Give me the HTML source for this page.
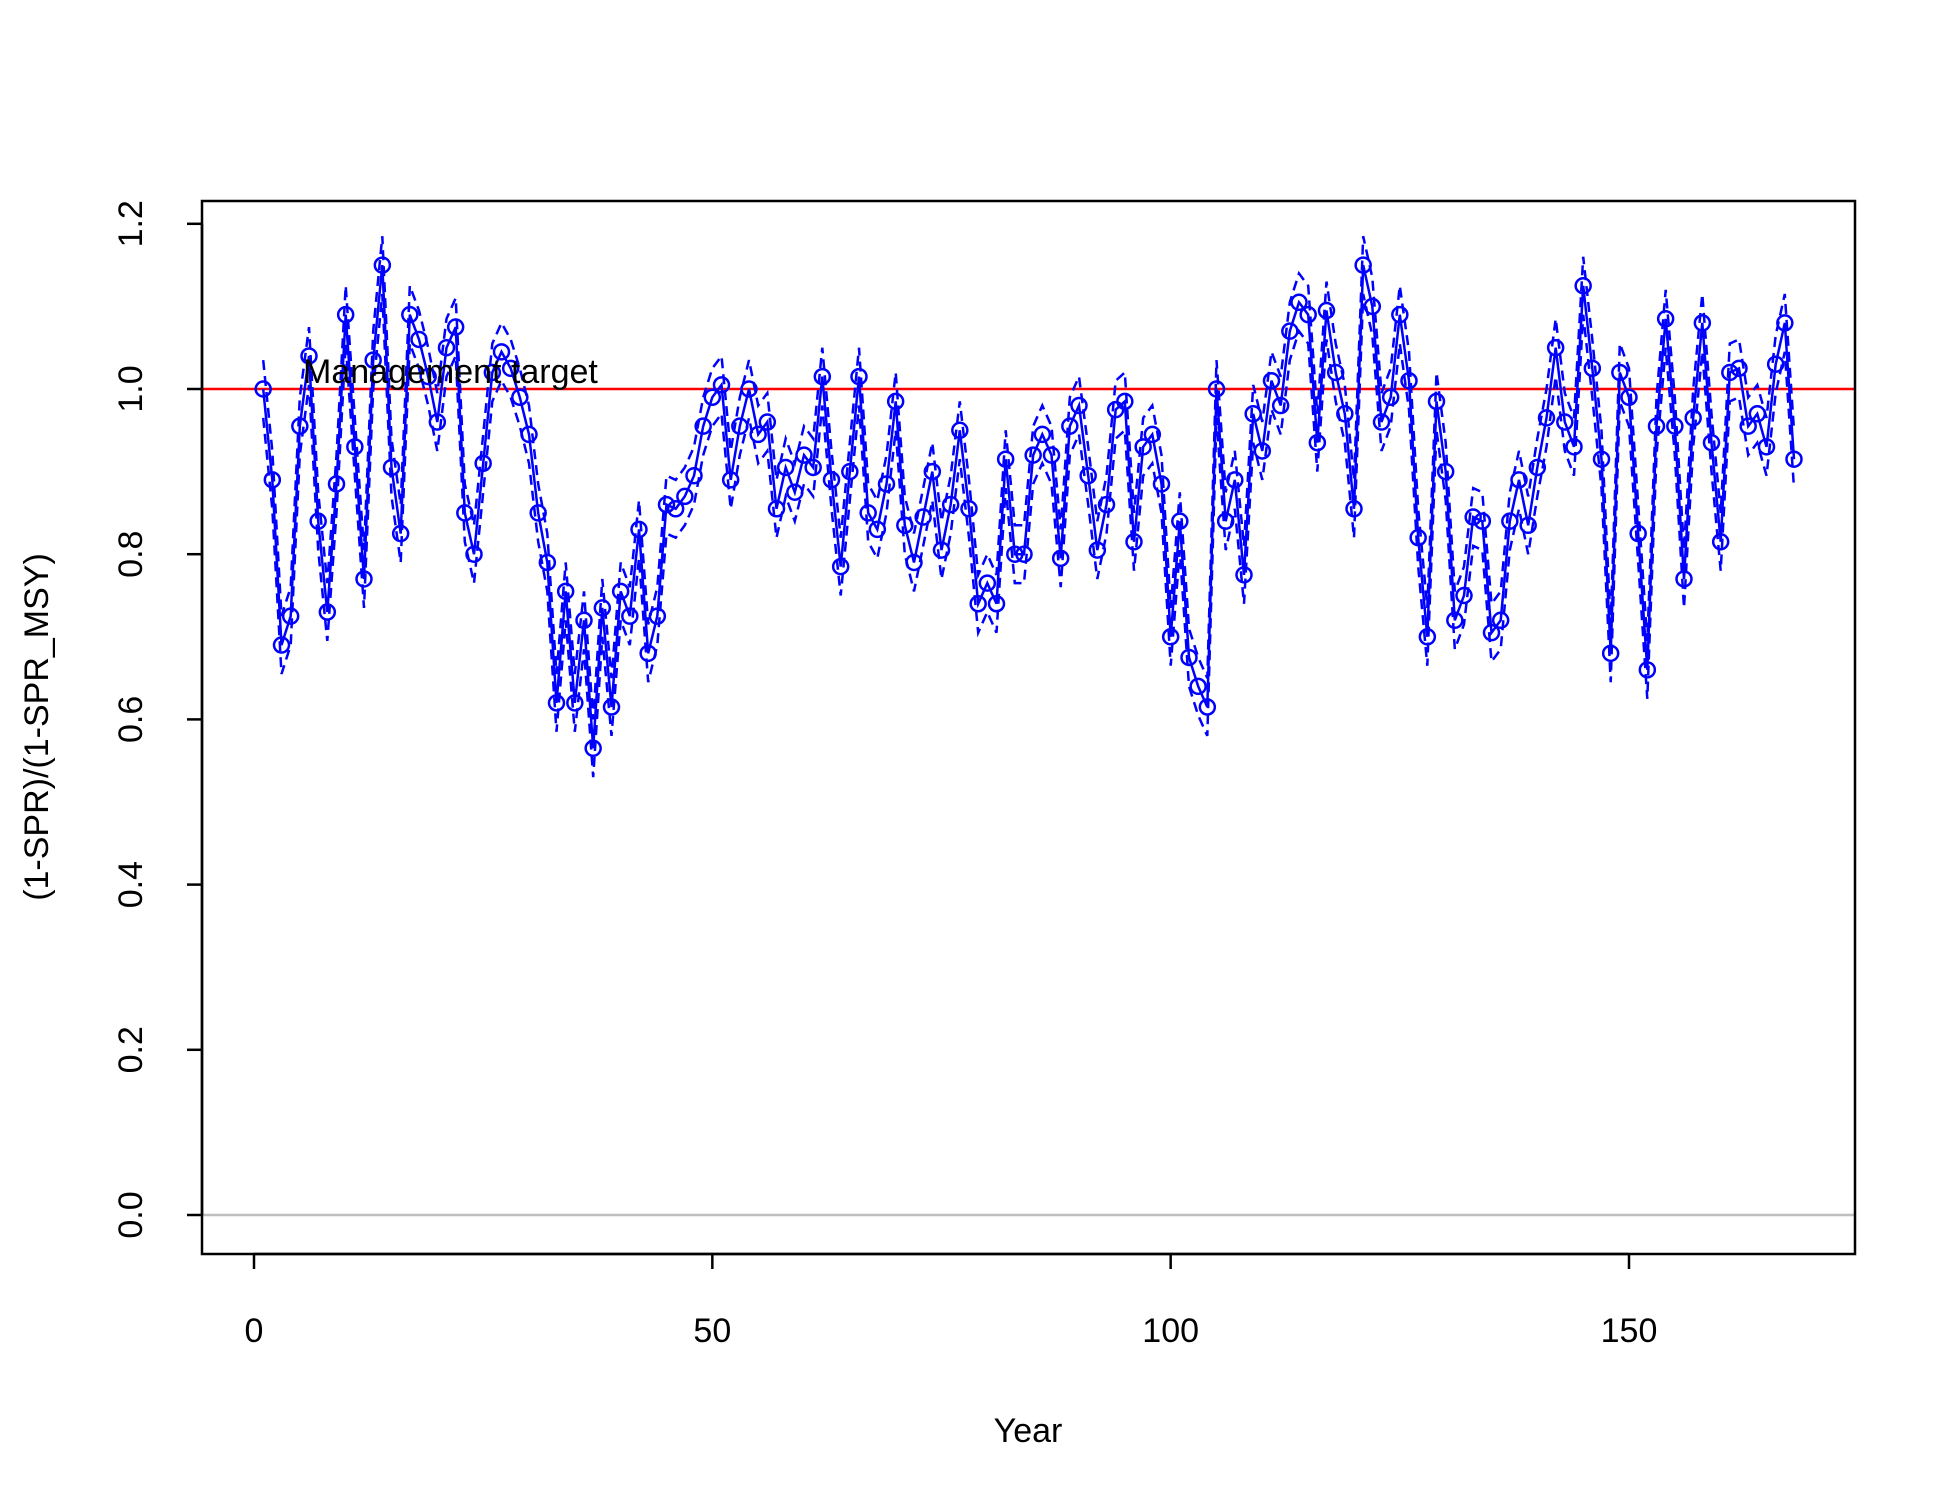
<!DOCTYPE html>
<html><head><meta charset="utf-8"><style>
html,body{margin:0;padding:0;background:#fff;}
svg{display:block;font-family:"Liberation Sans",Arial,sans-serif;}
</style></head><body>
<svg id="chart" width="1950" height="1500" viewBox="0 0 1950 1500" xmlns="http://www.w3.org/2000/svg">
<rect x="0" y="0" width="1950" height="1500" fill="#fff"/>
<g id="plot"></g>
</svg>
<script>
const years = Array.from({length:168},(_, i)=>i+1);
const values = [1.00,0.89,0.69,0.725,0.955,1.04,0.84,0.73,0.885,1.09,0.93,0.77,1.035,1.15,0.905,0.825,1.09,1.06,1.015,0.96,
1.05,1.075,0.85,0.80,0.91,1.02,1.045,1.025,0.99,0.945,0.85,0.79,0.62,0.755,0.62,0.72,0.565,0.735,0.615,0.755,
0.725,0.83,0.68,0.725,0.86,0.855,0.87,0.895,0.955,0.99,1.005,0.89,0.955,1.00,0.945,0.96,0.855,0.905,0.875,0.92,
0.905,1.015,0.89,0.785,0.90,1.015,0.85,0.83,0.885,0.985,0.835,0.79,0.845,0.90,0.805,0.86,0.95,0.855,0.74,0.765,
0.74,0.915,0.80,0.80,0.92,0.945,0.92,0.795,0.955,0.98,0.895,0.805,0.86,0.975,0.985,0.815,0.93,0.945,0.885,0.70,
0.84,0.675,0.64,0.615,1.00,0.84,0.89,0.775,0.97,0.925,1.01,0.98,1.07,1.105,1.09,0.935,1.095,1.02,0.97,0.855,
1.15,1.10,0.96,0.99,1.09,1.01,0.82,0.70,0.985,0.90,0.72,0.75,0.845,0.84,0.705,0.72,0.84,0.89,0.835,0.905,
0.965,1.05,0.96,0.93,1.125,1.025,0.915,0.68,1.02,0.99,0.825,0.66,0.955,1.085,0.955,0.77,0.965,1.08,0.935,0.815,
1.02,1.025,0.955,0.97,0.93,1.03,1.08,0.915];
const ciHalf = 0.035;
const xTicks = [0,50,100,150];
const yTicks = [0.0,0.2,0.4,0.6,0.8,1.0,1.2];
const yTickLabels = ["0.0","0.2","0.4","0.6","0.8","1.0","1.2"];
const targetValue = 1.0;

const NS="http://www.w3.org/2000/svg";
const g=document.getElementById('plot');
const L=202,R=1855,T=201,B=1254;
const xs=v=>254+v*(1375/150);
const ys=v=>1215-v*826;
function mk(tag,attrs){const e=document.createElementNS(NS,tag);for(const k in attrs)e.setAttribute(k,attrs[k]);g.appendChild(e);return e;}

let e;
e=mk('line',{x1:L,x2:R,y1:ys(0),y2:ys(0),stroke:'#bebebe','stroke-width':2.5});


e=mk('line',{x1:L,x2:R,y1:ys(targetValue),y2:ys(targetValue),stroke:'#ff0000','stroke-width':2.5});



const pts=f=>years.map((y,i)=>xs(y).toFixed(1)+','+ys(f(i)).toFixed(1)).join(' ');
e=mk('polyline',{points:pts(i=>values[i]+ciHalf),fill:'none',stroke:'#0000ff','stroke-width':2.5,'stroke-dasharray':'10,6'});


e=mk('polyline',{points:pts(i=>values[i]-ciHalf),fill:'none',stroke:'#0000ff','stroke-width':2.5,'stroke-dasharray':'10,6'});


e=mk('polyline',{points:pts(i=>values[i]),fill:'none',stroke:'#0000ff','stroke-width':2.5});


years.forEach((y,i)=>{
  const c=mk('circle',{cx:xs(y),cy:ys(values[i]),r:7.5,fill:'none',stroke:'#0000ff','stroke-width':2.5});
  
  
});

e=mk('text',{x:303,y:383,'font-size':34,fill:'#000'});
e.textContent='Management target';



e=mk('rect',{x:L,y:T,width:R-L,height:B-T,fill:'none',stroke:'#000','stroke-width':2.5});



e=mk('line',{x1:xs(xTicks[0]),x2:xs(xTicks[xTicks.length-1]),y1:B,y2:B,stroke:'#000','stroke-width':2.5});


xTicks.forEach(t=>{
  const l=mk('line',{x1:xs(t),x2:xs(t),y1:B,y2:B+15,stroke:'#000','stroke-width':2.5});
  
  
  const tx=mk('text',{x:xs(t),y:1342,'font-size':34,'text-anchor':'middle',fill:'#000'});
  tx.textContent=String(t);
  
  
});
e=mk('line',{x1:L,x2:L,y1:ys(yTicks[0]),y2:ys(yTicks[yTicks.length-1]),stroke:'#000','stroke-width':2.5});


yTicks.forEach((t,i)=>{
  const l=mk('line',{x1:L-15,x2:L,y1:ys(t),y2:ys(t),stroke:'#000','stroke-width':2.5});
  
  
  const tx=mk('text',{x:0,y:0,'font-size':34,'text-anchor':'middle',fill:'#000',transform:`translate(142,${ys(t)}) rotate(-90)`});
  tx.textContent=yTickLabels[i];
  
  
});
e=mk('text',{x:1028,y:1442,'font-size':34,'text-anchor':'middle',fill:'#000'});
e.textContent='Year';


e=mk('text',{x:0,y:0,'font-size':34,'text-anchor':'middle',fill:'#000',transform:'translate(48,727) rotate(-90)'});
e.textContent='(1-SPR)/(1-SPR_MSY)';


</script>
</body></html>
